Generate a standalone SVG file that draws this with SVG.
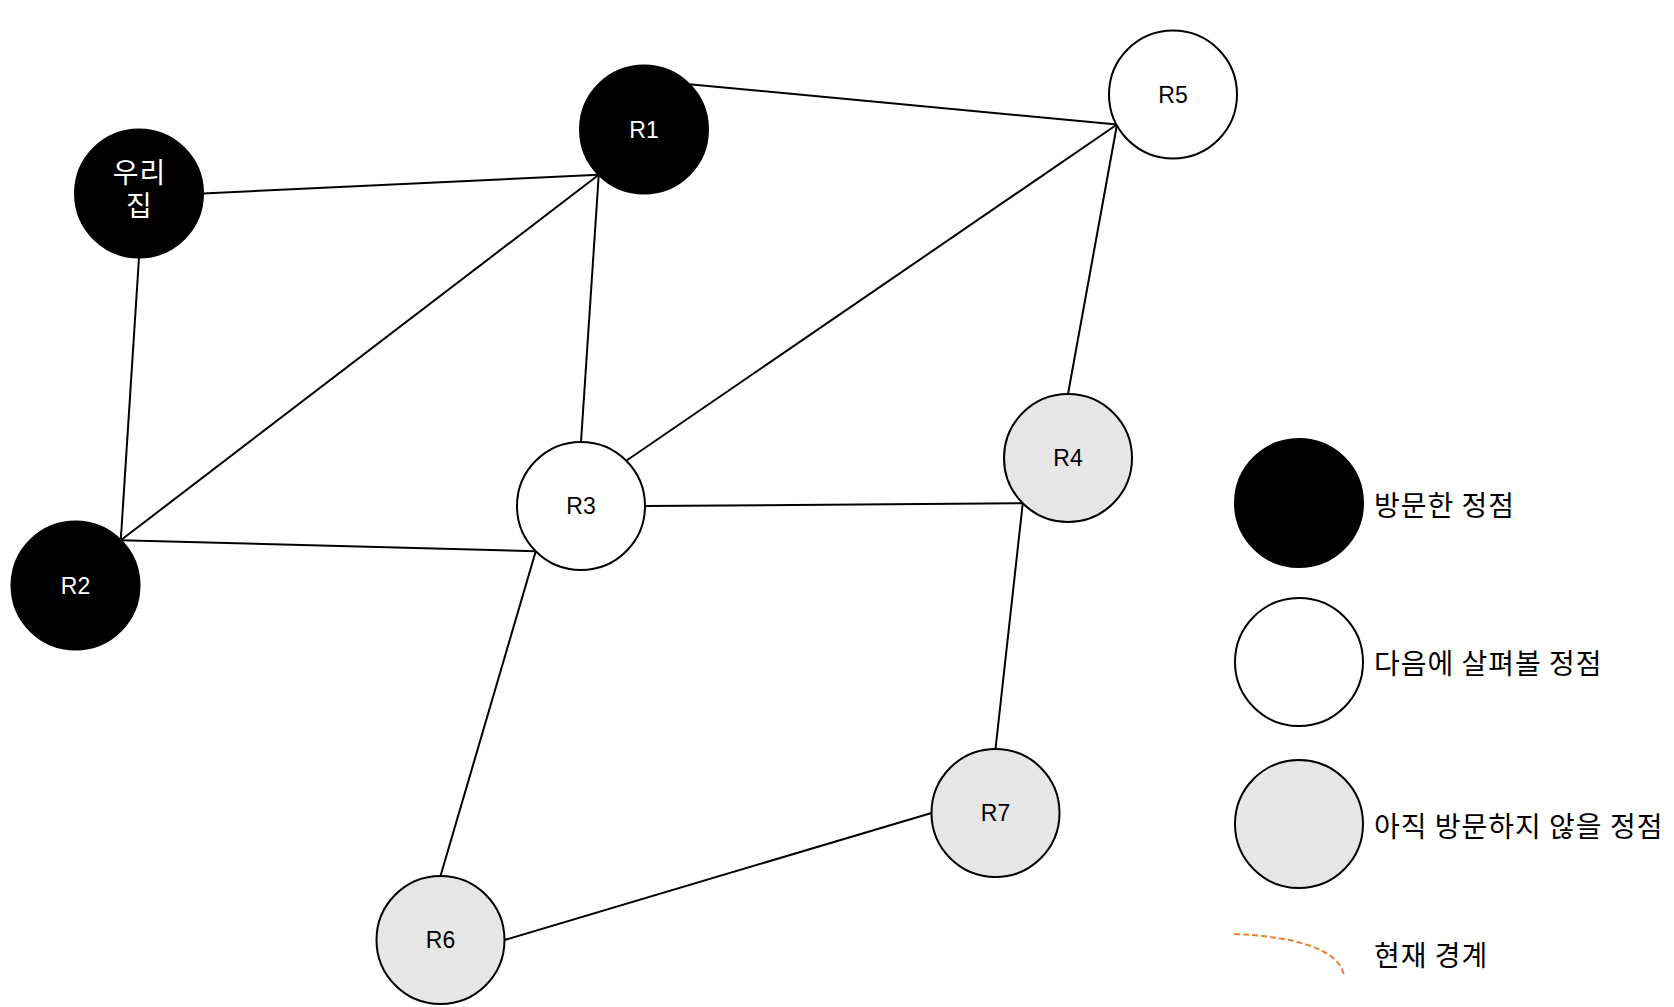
<svg xmlns="http://www.w3.org/2000/svg" width="1674" height="1007" viewBox="0 0 1674 1007">
<style>
.edge{stroke:#000;stroke-width:2;fill:none}
.node{stroke:#000;stroke-width:2}
.visited{fill:#000}
.next{fill:#fff}
.unvisited{fill:#e6e6e6}
.lbl{font-family:"Liberation Sans","Noto Sans",sans-serif;font-size:23px;text-anchor:middle;dominant-baseline:central}
.ko{font-family:"Noto Sans CJK KR","Noto Sans",sans-serif;font-size:28px;letter-spacing:1px;text-anchor:middle}
.legend{font-family:"Noto Sans CJK KR","Noto Sans",sans-serif;font-size:28px;letter-spacing:1px;fill:#000;dominant-baseline:central}
.w{fill:#fff}
.b{fill:#000}
</style>
<rect width="1674" height="1007" fill="#fff"/>
<g id="connectors">
<line class="edge" x1="203" y1="193.5" x2="598.75" y2="174.75"/>
<line class="edge" x1="120.75" y1="540.25" x2="598.75" y2="174.75"/>
<line class="edge" x1="598.75" y1="174.75" x2="581" y2="442"/>
<line class="edge" x1="139" y1="257.5" x2="120.75" y2="540.25"/>
<line class="edge" x1="120.75" y1="540.25" x2="535.75" y2="551.25"/>
<line class="edge" x1="535.75" y1="551.25" x2="440.5" y2="876"/>
<line class="edge" x1="626.25" y1="460.75" x2="1117" y2="124.5"/>
<line class="edge" x1="689.25" y1="84.25" x2="1117" y2="124.5"/>
<line class="edge" x1="1117" y1="124.5" x2="1068" y2="394"/>
<line class="edge" x1="645" y1="506" x2="1022.75" y2="503.25"/>
<line class="edge" x1="1022.75" y1="503.25" x2="995.5" y2="749"/>
<line class="edge" x1="931.5" y1="813" x2="504.5" y2="940"/>
</g>
<g id="node-home">
<circle class="node visited" cx="139" cy="193.5" r="64"/>
<text class="ko w" x="139.5" y="183">우리<tspan x="139.5" y="216">집</tspan></text>
</g>
<g id="node-R1">
<circle class="node visited" cx="644" cy="129.5" r="64"/>
<text class="lbl w" x="644" y="129.5">R1</text>
</g>
<g id="node-R2">
<circle class="node visited" cx="75.5" cy="585.5" r="64"/>
<text class="lbl w" x="75.5" y="585.5">R2</text>
</g>
<g id="node-R3">
<circle class="node next" cx="581" cy="506" r="64"/>
<text class="lbl b" x="581" y="506">R3</text>
</g>
<g id="node-R5">
<circle class="node next" cx="1173" cy="94.5" r="64"/>
<text class="lbl b" x="1173" y="94.5">R5</text>
</g>
<g id="node-R4">
<circle class="node unvisited" cx="1068" cy="458" r="64"/>
<text class="lbl b" x="1068" y="458">R4</text>
</g>
<g id="node-R7">
<circle class="node unvisited" cx="995.5" cy="813" r="64"/>
<text class="lbl b" x="995.5" y="813">R7</text>
</g>
<g id="node-R6">
<circle class="node unvisited" cx="440.5" cy="940" r="64"/>
<text class="lbl b" x="440.5" y="940">R6</text>
</g>
<g id="legend">
<circle class="node visited" cx="1299" cy="503" r="64"/>
<text class="legend" x="1374" y="504">방문한 정점</text>
<circle class="node next" cx="1299" cy="662" r="64"/>
<text class="legend" x="1374" y="662">다음에 살펴볼 정점</text>
<circle class="node unvisited" cx="1299" cy="824" r="64"/>
<text class="legend" x="1374" y="825">아직 방문하지 않을 정점</text>
<path d="M1234,934 C1290,936 1340,948 1344,976" fill="none" stroke="#f08033" stroke-width="2" stroke-dasharray="6 3"/>
<text class="legend" x="1374" y="954">현재 경계</text>
</g>
</svg>
